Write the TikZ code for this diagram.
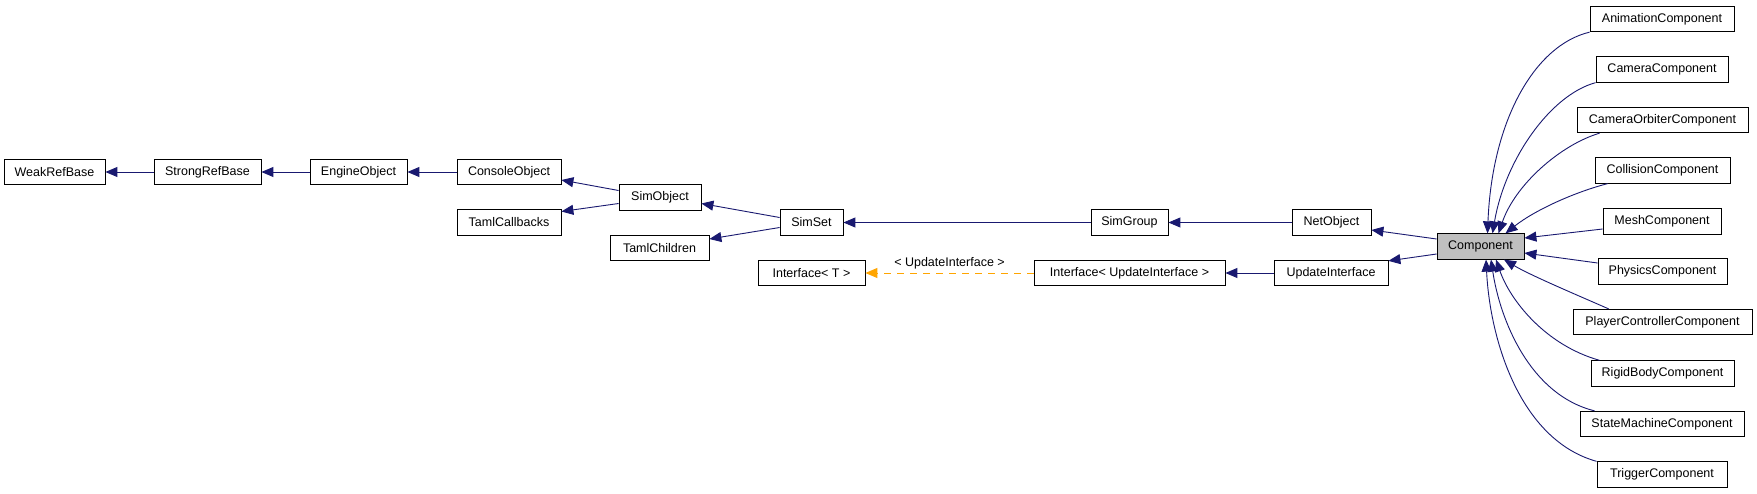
\documentclass[tikz,border=0pt]{standalone}
\usepackage{fontspec}
\setmainfont{Liberation Sans}
\usetikzlibrary{arrows.meta}
\definecolor{edgeblue}{HTML}{191970}
\definecolor{orng}{HTML}{FFA500}
\definecolor{compfill}{HTML}{BFBFBF}
\tikzset{
  cls/.style={draw=black, line width=0.8pt, fill=white, minimum height=25.5pt, inner sep=0pt, font=\fontsize{12.5}{15}\selectfont},
  inh/.style={draw=edgeblue, line width=0.9pt, -{Triangle[length=12pt,width=10pt]}},
  tmpl/.style={draw=orng, line width=0.9pt, dash pattern=on 7pt off 6pt, -{Triangle[length=12pt,width=10pt]}},
  lbl/.style={font=\fontsize{12.5}{15}\selectfont, inner sep=0pt}
}
\begin{document}
\begin{tikzpicture}[x=1pt,y=-1pt]
\useasboundingbox (0,0) rectangle (1757,493);
\fill[white] (0,0) rectangle (1757,493);
% left chain
\node[cls, minimum width=101pt] (weak) at (54.5,172) {WeakRefBase};
\node[cls, minimum width=107pt] (strong) at (207.5,172) {StrongRefBase};
\node[cls, minimum width=97pt] (engine) at (358.5,172) {EngineObject};
\node[cls, minimum width=104pt] (console) at (509,172) {ConsoleObject};
\node[cls, minimum width=104pt] (taml) at (509,222.5) {TamlCallbacks};
\node[cls, minimum width=82pt] (simobj) at (660,197.5) {SimObject};
\node[cls, minimum width=99pt] (tamlch) at (659.5,248) {TamlChildren};
\node[cls, minimum width=63pt] (simset) at (811.5,222.5) {SimSet};
\node[cls, minimum width=107pt] (ifT) at (811.5,273) {Interface< T >};
\node[cls, minimum width=77pt] (simgroup) at (1129.5,222.5) {SimGroup};
\node[cls, minimum width=191pt] (ifui) at (1129.5,273) {Interface< UpdateInterface >};
\node[cls, minimum width=79pt] (netobj) at (1331.5,222.5) {NetObject};
\node[cls, minimum width=114pt] (updi) at (1331,273) {UpdateInterface};
\node[cls, minimum width=87pt, fill=compfill] (comp) at (1480.5,246.5) {Component};
% right column
\node[cls, minimum width=144pt] (anim) at (1662,19) {AnimationComponent};
\node[cls, minimum width=132pt] (cam) at (1662,69.5) {CameraComponent};
\node[cls, minimum width=171pt] (orbit) at (1662.5,120) {CameraOrbiterComponent};
\node[cls, minimum width=135pt] (coll) at (1662.5,170.5) {CollisionComponent};
\node[cls, minimum width=118pt] (mesh) at (1662,221.5) {MeshComponent};
\node[cls, minimum width=129pt] (phys) at (1662.5,271.5) {PhysicsComponent};
\node[cls, minimum width=179pt] (pc) at (1662.5,322) {PlayerControllerComponent};
\node[cls, minimum width=143pt] (rb) at (1662.5,373.5) {RigidBodyComponent};
\node[cls, minimum width=164pt] (sm) at (1662,424) {StateMachineComponent};
\node[cls, minimum width=130pt] (trig) at (1662,474.5) {TriggerComponent};
% edges
\draw[inh] (strong.west) -- (weak.east);
\draw[inh] (engine.west) -- (strong.east);
\draw[inh] (console.west) -- (engine.east);
\draw[inh] ([yshift=7pt]simobj.west) -- ([yshift=-8pt]console.east);
\draw[inh] ([yshift=-6pt]simobj.west) -- ([yshift=11pt]taml.east);
\draw[inh] ([yshift=5pt]simset.west) -- ([yshift=-6pt]simobj.east);
\draw[inh] ([yshift=-5pt]simset.west) -- ([yshift=9pt]tamlch.east);
\draw[inh] (simgroup.west) -- (simset.east);
\draw[inh] (netobj.west) -- (simgroup.east);
\draw[inh] (updi.west) -- (ifui.east);
\draw[tmpl] (ifui.west) -- node[lbl, midway, yshift=9.5pt] {< UpdateInterface >} (ifT.east);
\draw[inh] ([yshift=7.5pt]comp.west) -- ([yshift=-7.5pt]netobj.east);
\draw[inh] ([yshift=-7.5pt]comp.west) -- ([yshift=-1pt]updi.north east);
% components
\draw[inh] (anim.south west) .. controls (1535,45) and (1492,120) .. ([xshift=7pt]comp.north);
\draw[inh] (cam.south west) .. controls (1550,95) and (1505,160) .. ([xshift=12pt]comp.north);
\draw[inh] ([xshift=23pt]orbit.south west) .. controls (1560,145) and (1515,185) .. ([xshift=18pt]comp.north);
\draw[inh] ([xshift=13pt]coll.south west) .. controls (1575,192) and (1535,210) .. ([xshift=25pt]comp.north);
\draw[inh] ([yshift=-7.5pt]mesh.west) -- ([yshift=8.5pt]comp.east);
\draw[inh] ([yshift=8.5pt]phys.west) -- ([yshift=-6.5pt]comp.east);
\draw[inh] ([xshift=36pt]pc.north west) .. controls (1570,292) and (1530,275) .. ([xshift=23.5pt]comp.south);
\draw[inh] ([xshift=9pt]rb.north west) .. controls (1545,345) and (1510,300) .. ([xshift=15.5pt]comp.south);
\draw[inh] ([xshift=15pt]sm.north west) .. controls (1530,395) and (1500,320) .. ([xshift=10.5pt]comp.south);
\draw[inh] (trig.north west) .. controls (1520,440) and (1490,340) .. ([xshift=5.5pt]comp.south);
\end{tikzpicture}
\end{document}
